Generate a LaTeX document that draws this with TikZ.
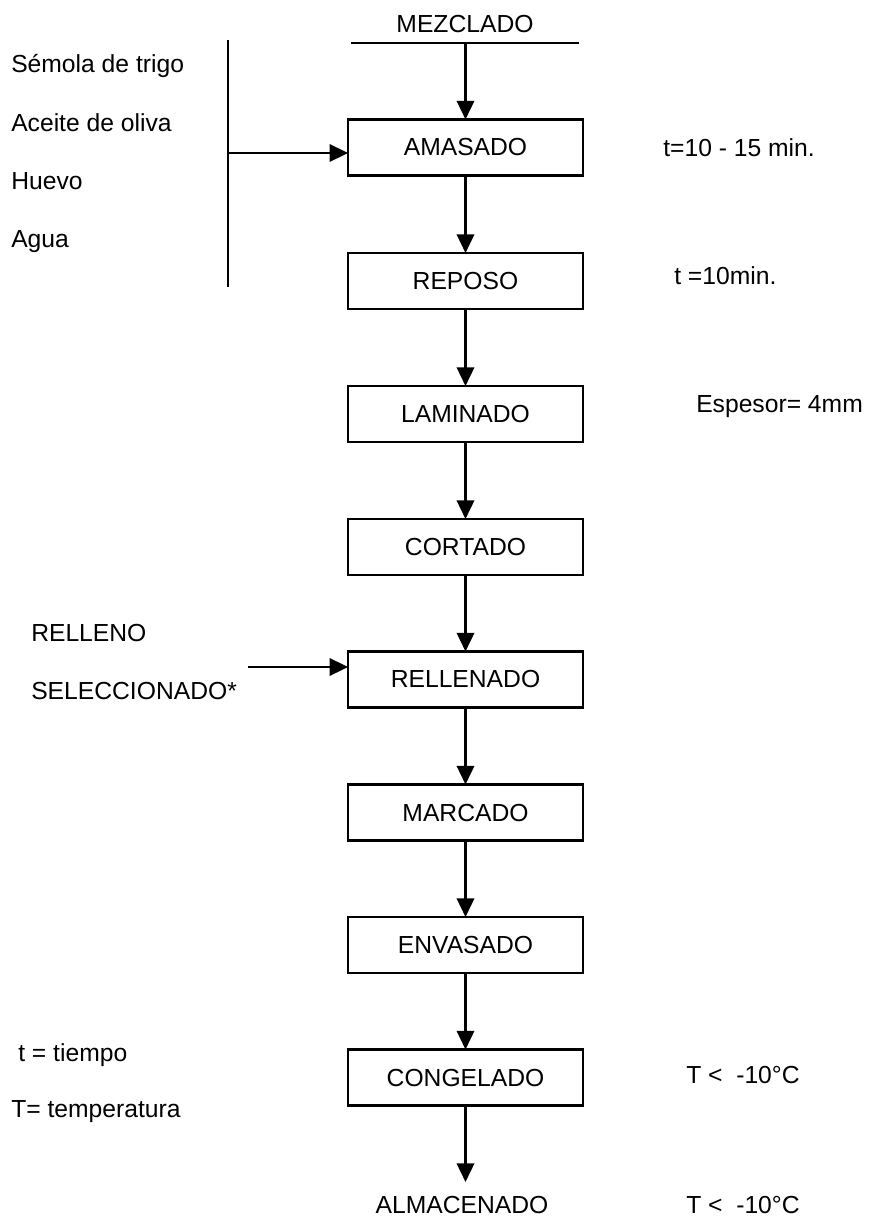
\documentclass[tikz,border=0pt]{standalone}
\usepackage{fontspec}
\setmainfont{Liberation Sans}
\usetikzlibrary{arrows.meta,positioning}

\begin{document}
\begin{tikzpicture}[x=0.75pt,y=-0.75pt,
    font=\fontsize{18.5}{22}\selectfont,
    line width=1.9pt,
    stepbox/.style={draw,minimum width=176pt,minimum height=42pt,inner sep=0pt,outer sep=0pt},
    flow/.style={-{Triangle[length=14pt,width=13pt]}},
    lbl/.style={anchor=base west,inner sep=0pt}]
\useasboundingbox (0,0) rectangle (868,1217);

% Process steps
\node[anchor=base,inner sep=0pt] (mezclado) at (465,32) {MEZCLADO};
\coordinate (mezL) at (351,43);
\coordinate (mezR) at (579,43);
\coordinate (mez) at (465.5,43);
\draw (mezL) -- (mezR);

\node[stepbox] (amasado) at (465.5,147.5) {AMASADO};
\node[stepbox] (reposo) at (465.5,281) {REPOSO};
\node[stepbox] (laminado) at (465.5,414) {LAMINADO};
\node[stepbox] (cortado) at (465.5,547) {CORTADO};
\node[stepbox] (rellenado) at (465.5,679.5) {RELLENADO};
\node[stepbox] (marcado) at (465.5,812.5) {MARCADO};
\node[stepbox] (envasado) at (465.5,945) {ENVASADO};
\node[stepbox] (congelado) at (465.5,1077.5) {CONGELADO};
\node[anchor=base,inner sep=0pt] (almacenado) at (462,1213) {ALMACENADO};
\coordinate (almtop) at (465.5,1182);

% Flow arrows
\draw[flow] (mez) -- (amasado.north);
\draw[flow] (amasado) -- (reposo);
\draw[flow] (reposo) -- (laminado);
\draw[flow] (laminado) -- (cortado);
\draw[flow] (cortado) -- (rellenado);
\draw[flow] (rellenado) -- (marcado);
\draw[flow] (marcado) -- (envasado);
\draw[flow] (envasado) -- (congelado);
\draw[flow] (congelado.south) -- (almtop);

% Ingredients
\node[lbl] (semola) at (10,72) {Sémola de trigo};
\node[lbl] (aceite) at (10,131) {Aceite de oliva};
\node[lbl] (huevo) at (10,189) {Huevo};
\node[lbl] (agua) at (10,247) {Agua};
\coordinate (brtop) at (228,40);
\coordinate (brbot) at (228,287);
\coordinate (brin) at (228,153);
\draw (brtop) -- (brbot);
\draw[flow] (brin) -- (brin -| amasado.west);

% Filling
\node[lbl] (relleno) at (30,641) {RELLENO};
\node[lbl] (selec) at (30,699) {SELECCIONADO*};
\coordinate (relin) at (248,667);
\draw[flow] (relin) -- (relin -| rellenado.west);

% Conditions
\node[lbl] (tamas) at (662,156) {t=10 - 15 min.};
\node[lbl] (trep) at (673,284) {t =10min.};
\node[lbl] (esp) at (695,412) {Espesor= 4mm};
\node[lbl] (tcong) at (685,1083) {T <\ \ -10°C};
\node[lbl] (talm) at (685,1213) {T <\ \ -10°C};

% Legend
\node[lbl] (leyt) at (17,1061) {t = tiempo};
\node[lbl] (leyT) at (10,1117) {T= temperatura};
\end{tikzpicture}
\end{document}
